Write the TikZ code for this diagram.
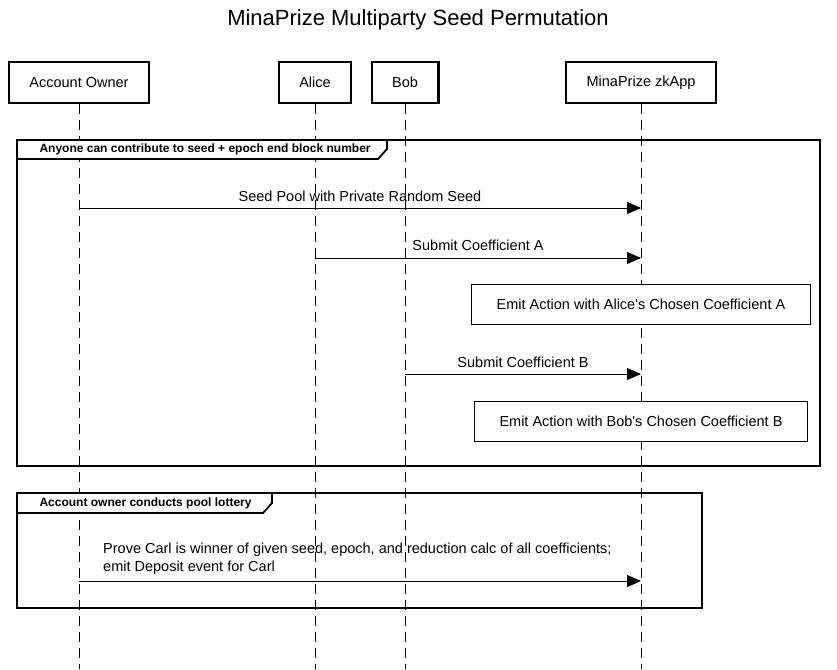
\documentclass[tikz,border=0pt]{standalone}
\usepackage{fontspec}
\setmainfont{Liberation Sans}
\usetikzlibrary{arrows.meta}
\def\msgfont{\fontsize{14.5}{18}\selectfont}
\def\tabfont{\fontsize{12}{14}\selectfont\bfseries}
\begin{document}
\begin{tikzpicture}[x=1pt,y=-1pt,>={Triangle[length=14pt,width=12pt]},
  actor/.style={draw,fill=white,line width=2.2pt,minimum height=41pt,inner xsep=20.5pt,font=\msgfont},
  life/.style={line width=0.9pt,dash pattern=on 10pt off 6pt},
  msg/.style={->,line width=0.9pt},
  note/.style={draw,fill=white,line width=0.8pt,minimum height=40pt,inner xsep=25pt,font=\msgfont},
  frame/.style={line width=2pt},
  tab/.style={draw,fill=white,line width=1.8pt}]
\useasboundingbox (0,0) rectangle (837,669);
\node[font=\fontsize{22}{26}\selectfont] (title) at (418,19.5) {MinaPrize Multiparty Seed Permutation};
% participants
\node[actor] (owner) at (79,82.5) {Account Owner};
\node[actor] (alice) at (315,82.5) {Alice};
\node[actor] (bob) at (405,82.5) {Bob};
\node[actor] (app) at (641,82.5) {MinaPrize zkApp};
\foreach \p in {owner,alice,bob,app}
  \draw[life] (\p.south) -- (\p.south |- 0,669);
% first frame
\draw[frame] (17,140) rectangle (820,466);
\draw[tab] (17,140) -- (387,140) -- (387,149) -- (378,159) -- (17,159) -- cycle;
\node[anchor=west,font=\tabfont] (tabseed) at (36,149.5) {Anyone can contribute to seed + epoch end block number};
\draw[msg] (owner |- 0,208) -- (app |- 0,208)
  node[midway,above=2.5pt,font=\msgfont] {Seed Pool with Private Random Seed};
\draw[msg] (alice |- 0,258) -- (app |- 0,258)
  node[midway,above=4pt,font=\msgfont] {Submit Coefficient A};
\node[note] (emitA) at (app |- 0,304) {Emit Action with Alice\textquotesingle s Chosen Coefficient A};
\draw[msg] (bob |- 0,374) -- (app |- 0,374)
  node[midway,above=3pt,font=\msgfont] {Submit Coefficient B};
\node[note] (emitB) at (app |- 0,421) {Emit Action with Bob\textquotesingle s Chosen Coefficient B};
% second frame
\draw[frame] (17,493) rectangle (702,608);
\draw[tab] (17,493) -- (272,493) -- (272,503) -- (263,513) -- (17,513) -- cycle;
\node[anchor=west,font=\tabfont] (tablot) at (36,503) {Account owner conducts pool lottery};
\draw[msg] (owner |- 0,581) -- (app |- 0,581);
\node[anchor=south west,align=left,inner sep=0pt,font=\msgfont] (prove) at (103,574.5)
  {Prove Carl is winner of given seed, epoch, and reduction calc of all coefficients;\\
   emit Deposit event for Carl};
\end{tikzpicture}
\end{document}
